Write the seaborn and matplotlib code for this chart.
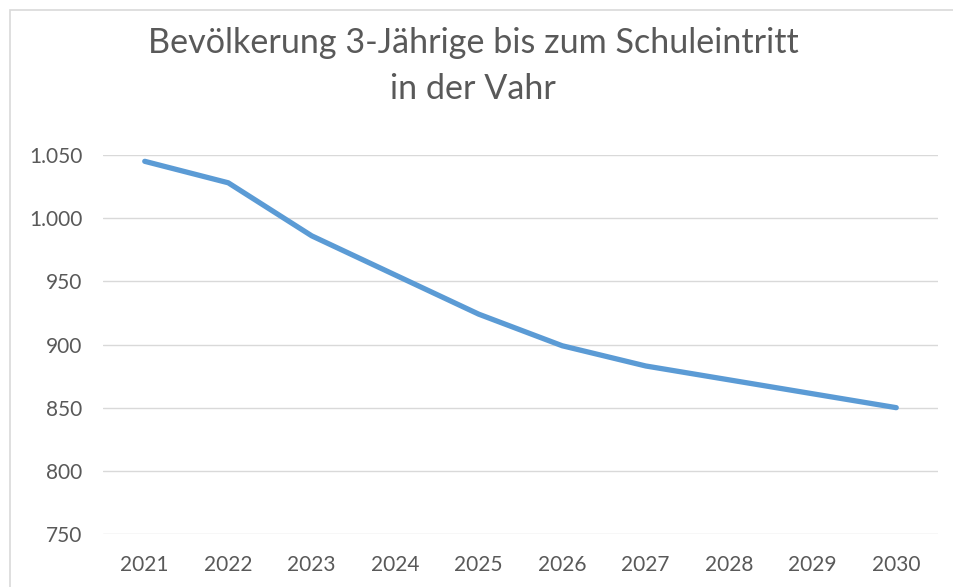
import matplotlib
matplotlib.use("Agg")
import matplotlib.pyplot as plt
import matplotlib.ticker as mticker
from matplotlib.patches import Rectangle
import seaborn as sns
import pandas as pd

# data
jahre = ["2021", "2022", "2023", "2024", "2025", "2026", "2027", "2028", "2029", "2030"]
bevoelkerung = [1045, 1028, 986, 955, 924, 899, 883, 872, 861, 850]
y_ticks = [750, 800, 850, 900, 950, 1000, 1050]
titel = "Bevölkerung 3-Jährige bis zum Schuleintritt\nin der Vahr"

df = pd.DataFrame({"Jahr": jahre, "Anzahl": bevoelkerung})

sns.set_style("white")
plt.rcParams["font.family"] = ["Lato", "DejaVu Sans"]

fig = plt.figure(figsize=(9.54, 5.87), dpi=100)
ax = fig.add_axes([103/954, 53/587, 835/954, 379/587])

sns.lineplot(data=df, x="Jahr", y="Anzahl", ax=ax, color="#5B9BD5",
             linewidth=3.8, solid_capstyle="round", solid_joinstyle="round", sort=False)

ax.set_xlim(-0.5, len(jahre) - 0.5)
ax.set_ylim(min(y_ticks), max(y_ticks))
ax.set_yticks(y_ticks)
ax.yaxis.set_major_formatter(mticker.FuncFormatter(lambda v, p: f"{v:,.0f}".replace(",", ".")))
ax.grid(axis="y", color="#D9D9D9", linewidth=1.0)
ax.set_axisbelow(True)
for s in ax.spines.values():
    s.set_visible(False)
ax.tick_params(axis="both", length=0, labelsize=15, labelcolor="#595959")
ax.tick_params(axis="y", pad=15)
ax.tick_params(axis="x", pad=15)
ax.set_xlabel("")
ax.set_ylabel("")

fig.text(473/954, 1 - 66/587, titel, ha="center", va="center", fontsize=24.6,
         color="#595959", linespacing=1.55)

# chart border (only left and top edges visible in the crop)
fig.patches.append(Rectangle((10/954, -0.1), 1.2, 1.1 - 10/587, transform=fig.transFigure,
                             fill=False, edgecolor="#D9D9D9", linewidth=1.2))

fig.savefig("out.png", dpi=100, facecolor="white")
